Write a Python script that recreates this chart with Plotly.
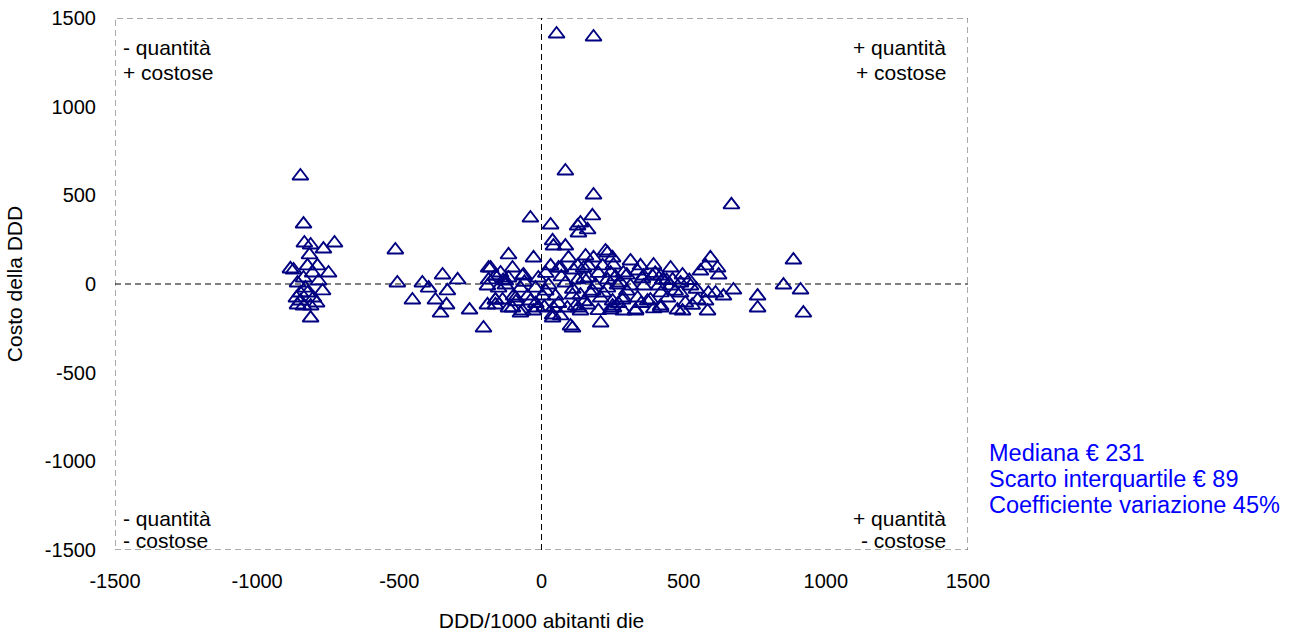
import plotly.graph_objects as go

# DDD/1000 abitanti die (scarto dalla media) e costo della DDD (scarto dalla media)
ddd = [
    -848, -837, -834, -812, -767, -728, -816, -872, -823, -788, -749, -837, -805, -784,
    -858, -823, -770, -848, -802, -858, -837, -812, -812, -883, -862, -830, -848, -791,
    -514, -507, -454, -419, -397, -373, -348, -331, -334, -355, -295, -253, -204, -186,
    -186, -190, -162, -162,
    -116, -28, -179, -102, -162, -127, -67, -11, -190, -151, -74, -21, -98, -162, -49,
    4, -116, -67, -14, -137, -39, 32, 39, 84, 127, 95, 60, 102, -144, -116, -63, -127,
    -91, -39, -162, -102, -74, -28, 39, 91,
    53, 183, 84, 183, 179, 137, 130, 162, 668, 886,
    155, 183, 232, 313, 348, 394, 113, 148, 215, 253, 288, 338, 390, 426, 127, 165, 190,
    232, 232, 278, 313, 359, 412, 137, 172, 208, 250, 288, 338, 373, 120, 162, 250, 288,
    331, 419, 137, 208,
    42, 225, 32, 67, 127, 165, 243, 25, 84, 49, 109, 218, 42, 130, 243, 39, 67, 109,
    250, 454, 359, 419, 461, 267, 454, 285, 383, 443, 253, 331, 419, 478,
    594, 577, 619, 559, 623, 496, 489, 524, 587, 640, 675, 549, 612, 489, 506, 496, 584,
    851, 911, 760, 760, 921, 577,
    -60, -135, 15, 70, 150, 200, 260, 300, 355, 400, 440, 520, 545, 15, 110, 180, 300,
    420, 470, -90, -20, 60, 150, 270, 350, 10, 200, 395, 530,
]
costo = [
    609, 338, 231, 220, 197, 231, 164, 79, 102, 102, 62, 34, 62, 17,
    6, -51, -39, -96, -79, -118, -124, -124, -192, 85, -79, -23, -51, -107,
    192, 6, -90, 6, -23, -90, 51, -39, -118, -164, 23, -147, -248, 90,
    23, -118, 45, -90,
    164, 147, 90, 90, 45, 17, 45, 34, -11, -23, -23, -23, -68, -90, -68,
    -68, -135, -152, -135, -90, 372, 333, 243, 214, 327, 147, 90, -237, 62, 34, 51, -6,
    -79, -96, -118, -135, -164, -152, -175, -135,
    1410, 1393, 637, 502, 384, 344, 288, 305, 446, 135,
    158, 147, 175, 130, 102, 107, 79, 90, 102, 107, 62, 73, 45, 23, 23, 34, -6,
    23, -23, 6, -11, -11, -11, -62, -51, -79, -96, -79, -79, -96, -124, -118, -124, -152,
    -152, -124, -152, -220,
    214, 186, 102, 90, 102, 102, 62, -6, 6, -68, -62, -51, -135, -135, -147, -192, -180, -248,
    147, 90, 45, 45, 23, -6, -11, -90, -90, -79, -135, -147, -135, -147,
    147, 102, 90, 73, 51, 51, 6, -11, -51, -68, -34, -90, -51, -51, -107, -152, -152,
    -6, -34, -68, -135, -164, -96,
    10, 20, 60, 40, 30, 60, 40, 50, 30, 60, 20, 20, -30, -40, -30, -40, -40,
    -50, -40, -100, -110, -110, -100, -110, -110, -130, -150, -140, -120,
]

tick_vals = [-1500, -1000, -500, 0, 500, 1000, 1500]
tick_text = [str(v) for v in tick_vals]
quadranti = [
    ("- quantità", "+ costose", "left", 0.007),
    ("+ quantità", "+ costose", "right", 0.9765),
]
quadranti_bassi = [
    ("- quantità", "- costose", "left", 0.007),
    ("+ quantità", "- costose", "right", 0.9765),
]
statistiche = ["Mediana € 231", "Scarto interquartile € 89", "Coefficiente variazione 45%"]

FONT = "Liberation Sans, Arial, sans-serif"

fig = go.Figure()
fig.add_trace(go.Scatter(
    x=ddd, y=costo, mode="markers",
    marker=dict(symbol="triangle-up-open", size=14, color="#000080",
                line=dict(width=1.9, color="#000080")),
    showlegend=False, hoverinfo="x+y",
))

axis_common = dict(
    tickvals=tick_vals, ticktext=tick_text, showgrid=False, zeroline=False, showline=False,
    ticks="outside", tickcolor="rgba(0,0,0,0)", automargin=False,
    tickfont=dict(family=FONT, size=20, color="black"),
    range=[-1500, 1500],
)
fig.update_xaxes(**axis_common, ticklen=13,
                 title=dict(text="DDD/1000 abitanti die", standoff=22,
                            font=dict(family=FONT, size=21, color="black")))
fig.update_yaxes(**axis_common, ticklen=14,
                 title=dict(text="Costo della DDD", standoff=16,
                            font=dict(family=FONT, size=21, color="black")))

# frame and quadrant lines, dashed
fig.add_shape(type="rect", xref="x", yref="y", x0=-1500, x1=1500, y0=-1500, y1=1500,
              line=dict(color="#555555", width=1, dash="6px,4px"), layer="below")
fig.add_shape(type="line", xref="x", yref="y", x0=-1500, x1=1500, y0=0, y1=0,
              line=dict(color="black", width=1, dash="6px,4px"), layer="below")
fig.add_shape(type="line", xref="x", yref="y", x0=0, x1=0, y0=-1500, y1=1500,
              line=dict(color="black", width=1, dash="6px,4px"), layer="below")

ann = []
for l1, l2, align, xp in quadranti:
    for txt, yp in ((l1, 0.945), (l2, 0.898)):
        ann.append(dict(text=txt, x=xp, y=yp, xref="paper", yref="paper",
                        xanchor=align, yanchor="middle", showarrow=False,
                        font=dict(family=FONT, size=21, color="black")))
for l1, l2, align, xp in quadranti_bassi:
    for txt, yp in ((l1, 0.060), (l2, 0.017)):
        ann.append(dict(text=txt, x=xp, y=yp, xref="paper", yref="paper",
                        xanchor=align, yanchor="middle", showarrow=False,
                        font=dict(family=FONT, size=21, color="black")))
for txt, yp in zip(statistiche, (0.182, 0.1335, 0.0846)):
    ann.append(dict(text=txt, x=1.0223, y=yp, xref="paper", yref="paper",
                    xanchor="left", yanchor="middle", showarrow=False,
                    font=dict(family=FONT, size=23.5, color="#0000FF")))

fig.update_layout(
    width=1298, height=637,
    margin=dict(l=115, r=330, t=18, b=87),
    paper_bgcolor="white", plot_bgcolor="white",
    annotations=ann,
    font=dict(family=FONT),
)

fig.write_html("out.html")
